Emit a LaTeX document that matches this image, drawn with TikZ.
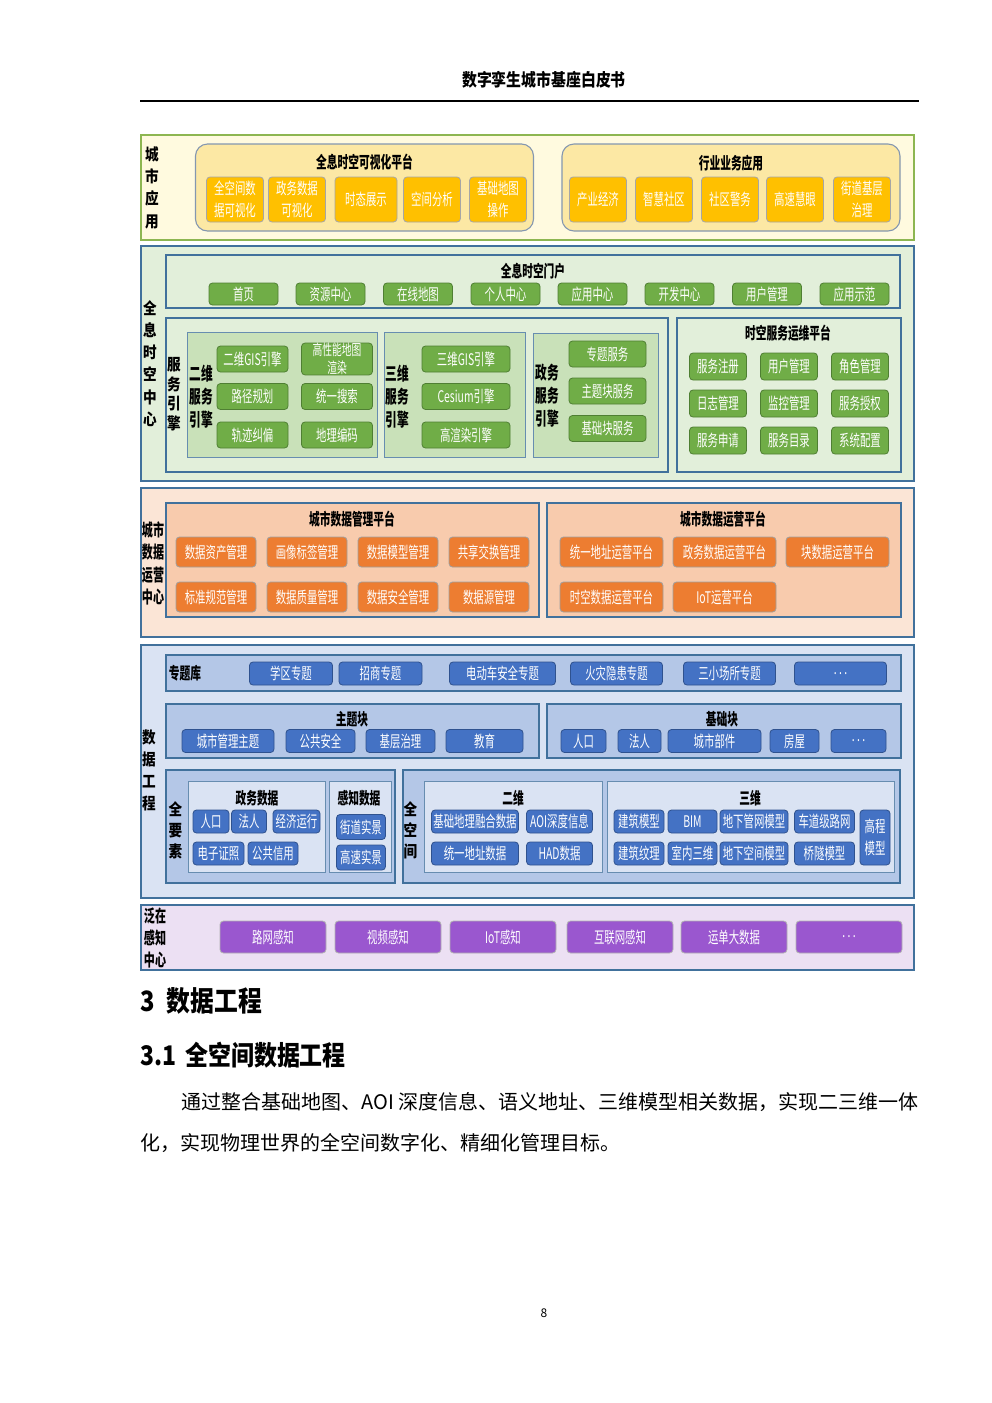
\documentclass[tikz,border=0pt]{standalone}
\usepackage{fontspec}
\setmainfont{Noto Sans CJK SC}
\newfontfamily\slimfont[FakeStretch=0.75]{Noto Sans CJK SC}
\newfontfamily\thinfont[FakeStretch=0.65]{Noto Sans CJK SC}
\newfontfamily\halffont[FakeStretch=0.85]{Noto Sans CJK SC}

\definecolor{frame}{HTML}{41719C}
\definecolor{appfill}{HTML}{FFFADF}
\definecolor{appline}{HTML}{8DB651}
\definecolor{appbox}{HTML}{FCE8A4}
\definecolor{appedge}{HTML}{8497B0}
\definecolor{appitem}{HTML}{FFC000}
\definecolor{hubfill}{HTML}{E2EFDA}
\definecolor{hubsub}{HTML}{C9E1B9}
\definecolor{hubitem}{HTML}{70AD47}
\definecolor{hubedge}{HTML}{4F7F33}
\definecolor{opfill}{HTML}{FBE5D6}
\definecolor{opbox}{HTML}{F8CBAD}
\definecolor{opitem}{HTML}{ED7D31}
\definecolor{engfill}{HTML}{DAE3F3}
\definecolor{engbox}{HTML}{B4C7E7}
\definecolor{engitem}{HTML}{4472C4}
\definecolor{engedge}{HTML}{2F528F}
\definecolor{senfill}{HTML}{ECE0F3}
\definecolor{senitem}{HTML}{9A57CF}

\tikzset{
  layer/.style={draw=frame, line width=1.3, inner sep=0, minimum width=773},
  pane/.style={draw=frame, line width=1.1, inner sep=0},
  subpane/.style={draw=frame!80, line width=0.9, inner sep=0},
  tag/.style={inner sep=0, align=center, font=\thinfont\bfseries\fontsize{16.5}{18}\selectfont},
  side/.style={inner sep=0, align=center, font=\halffont\bfseries\fontsize{16}{22.3}\selectfont},
  duo/.style={inner sep=0, align=center, font=\thinfont\bfseries\fontsize{18}{23}\selectfont},
  cell/.style={rounded corners=3.5, line width=0.8, inner sep=0, align=center, text=white,
    font=\thinfont\fontsize{16}{22}\selectfont},
  ycell/.style={cell, fill=appitem, draw=gray!70, minimum width=57, minimum height=45},
  gcell/.style={cell, fill=hubitem, draw=hubedge, minimum height=26},
  ocell/.style={cell, fill=opitem, draw=gray!75, minimum height=30},
  bcell/.style={cell, fill=engitem, draw=engedge, minimum height=23},
  pcell/.style={cell, fill=senitem, draw=gray!60, minimum width=106, minimum height=32},
}

\begin{document}
\begin{tikzpicture}[x=1pt, y=-1pt]
\useasboundingbox (0,0) rectangle (992,1403);
\fill[white] (0,0) rectangle (992,1403);

% page head
\node[font=\halffont\bfseries\fontsize{17.5}{20}\selectfont] (head) at (544,80) {数字孪生城市基座白皮书};
\coordinate (ruleL) at (140,101);
\coordinate (ruleR) at (919,101);
\draw[line width=1.3] (ruleL) -- (ruleR);

% city applications
\node[layer, draw=appline, line width=2, fill=appfill, minimum height=105] (app) at (527.5,187.5) {};
\node[side] (appl) at (152,187.5) {城\\市\\应\\用};
\node[pane, draw=appedge, fill=appbox, rounded corners=12, minimum width=338, minimum height=87] (vis) at (364.5,187.5) {};
\node[tag] (vist) at (364.5,162) {全息时空可视化平台};
\node[ycell] (vis1) at (235,199.5) {全空间数\\据可视化};
\node[ycell] (vis2) at (297,199.5) {政务数据\\可视化};
\node[ycell, minimum width=62] (vis3) at (366,199.5) {时态展示};
\node[ycell] (vis4) at (432,199.5) {空间分析};
\node[ycell] (vis5) at (498,199.5) {基础地图\\操作};
\node[pane, draw=appedge, fill=appbox, rounded corners=12, minimum width=338, minimum height=87] (ind) at (731,187.5) {};
\node[tag] (indt) at (731,163) {行业业务应用};
\node[ycell] (ind1) at (598,199.5) {产业经济};
\node[ycell] (ind2) at (664,199.5) {智慧社区};
\node[ycell] (ind3) at (730,199.5) {社区警务};
\node[ycell] (ind4) at (795,199.5) {高速慧眼};
\node[ycell] (ind5) at (862,199.5) {街道基层\\治理};

% spatio-temporal hub
\node[layer, fill=hubfill, minimum height=235] (hub) at (527.5,363.5) {};
\node[side] (hubl) at (150,363.5) {全\\息\\时\\空\\中\\心};
\node[pane, fill=hubfill, minimum width=734, minimum height=53] (gate) at (533,281.5) {};
\node[tag] (gatet) at (533,271) {全息时空门户};
\node[gcell, minimum width=69, minimum height=22] (gate1) at (243.5,294) {首页};
\node[gcell, minimum width=69, minimum height=22] (gate2) at (330.5,294) {资源中心};
\node[gcell, minimum width=69, minimum height=22] (gate3) at (418,294) {在线地图};
\node[gcell, minimum width=69, minimum height=22] (gate4) at (505.5,294) {个人中心};
\node[gcell, minimum width=69, minimum height=22] (gate5) at (592.5,294) {应用中心};
\node[gcell, minimum width=69, minimum height=22] (gate6) at (679.5,294) {开发中心};
\node[gcell, minimum width=69, minimum height=22] (gate7) at (767,294) {用户管理};
\node[gcell, minimum width=69, minimum height=22] (gate8) at (854.5,294) {应用示范};

\node[pane, fill=hubfill, minimum width=502, minimum height=154] (eng) at (417,395) {};
\node[side, font=\halffont\bfseries\fontsize{16}{19.5}\selectfont] (engl) at (174,394) {服\\务\\引\\擎};
\node[subpane, fill=hubsub, minimum width=190, minimum height=125] (two) at (282.5,394.5) {};
\node[duo] (twol) at (201,396.5) {二维\\服务\\引擎};
\node[gcell, minimum width=71] (two1) at (252.5,359) {二维GIS引擎};
\node[gcell, minimum width=71, font=\thinfont\fontsize{15}{18}\selectfont] (two2) at (337,359) {高性能地图\\渲染};
\node[gcell, minimum width=71] (two3) at (252.5,396.5) {路径规划};
\node[gcell, minimum width=71] (two4) at (337,396.5) {统一搜索};
\node[gcell, minimum width=71] (two5) at (252.5,435) {轨迹纠偏};
\node[gcell, minimum width=71] (two6) at (337,435) {地理编码};
\node[subpane, fill=hubsub, minimum width=141, minimum height=125] (three) at (454.5,394.5) {};
\node[duo] (threel) at (397.5,396.5) {三维\\服务\\引擎};
\node[gcell, minimum width=88] (three1) at (466,359) {三维GIS引擎};
\node[gcell, minimum width=88] (three2) at (466,396.5) {Cesium引擎};
\node[gcell, minimum width=88] (three3) at (466,435) {高渲染引擎};
\node[subpane, fill=hubsub, minimum width=125, minimum height=124] (gov) at (595.5,395) {};
\node[duo] (govl) at (547,396) {政务\\服务\\引擎};
\node[gcell, minimum width=77] (gov1) at (607.5,354) {专题服务};
\node[gcell, minimum width=77] (gov2) at (607.5,391) {主题块服务};
\node[gcell, minimum width=77] (gov3) at (607.5,428.5) {基础块服务};

\node[pane, fill=hubfill, minimum width=224, minimum height=154] (ops) at (789,395) {};
\node[tag] (opst) at (788,333) {时空服务运维平台};
\node[gcell, minimum width=57, minimum height=27] (ops1) at (718,366.5) {服务注册};
\node[gcell, minimum width=57, minimum height=27] (ops2) at (789,366.5) {用户管理};
\node[gcell, minimum width=57, minimum height=27] (ops3) at (860,366.5) {角色管理};
\node[gcell, minimum width=57, minimum height=27] (ops4) at (718,403.5) {日志管理};
\node[gcell, minimum width=57, minimum height=27] (ops5) at (789,403.5) {监控管理};
\node[gcell, minimum width=57, minimum height=27] (ops6) at (860,403.5) {服务授权};
\node[gcell, minimum width=57, minimum height=27] (ops7) at (718,440.5) {服务申请};
\node[gcell, minimum width=57, minimum height=27] (ops8) at (789,440.5) {服务目录};
\node[gcell, minimum width=57, minimum height=27] (ops9) at (860,440.5) {系统配置};

% city data operation
\node[layer, fill=opfill, minimum height=149] (opc) at (527.5,562.5) {};
\node[duo, font=\thinfont\bfseries\fontsize{17}{22.5}\selectfont] (opcl) at (153,563.5) {城市\\数据\\运营\\中心};
\node[pane, fill=opbox, minimum width=373, minimum height=114] (dm) at (352.5,560) {};
\node[tag] (dmt) at (352,519) {城市数据管理平台};
\node[ocell, minimum width=80] (dm1) at (216,552) {数据资产管理};
\node[ocell, minimum width=80] (dm2) at (307,552) {画像标签管理};
\node[ocell, minimum width=80] (dm3) at (398,552) {数据模型管理};
\node[ocell, minimum width=80] (dm4) at (489,552) {共享交换管理};
\node[ocell, minimum width=80] (dm5) at (216,597) {标准规范管理};
\node[ocell, minimum width=80] (dm6) at (307,597) {数据质量管理};
\node[ocell, minimum width=80] (dm7) at (398,597) {数据安全管理};
\node[ocell, minimum width=80] (dm8) at (489,597) {数据源管理};
\node[pane, fill=opbox, minimum width=354, minimum height=114] (dop) at (724,560) {};
\node[tag] (dopt) at (723,519) {城市数据运营平台};
\node[ocell, minimum width=103] (dop1) at (611.5,552) {统一地址运营平台};
\node[ocell, minimum width=103] (dop2) at (724.5,552) {政务数据运营平台};
\node[ocell, minimum width=103] (dop3) at (837.5,552) {块数据运营平台};
\node[ocell, minimum width=103] (dop4) at (611.5,597) {时空数据运营平台};
\node[ocell, minimum width=103] (dop5) at (724.5,597) {IoT运营平台};

% data engineering
\node[layer, fill=engfill, minimum height=253] (de) at (527.5,771.5) {};
\node[side, font=\halffont\bfseries\fontsize{16}{22}\selectfont] (del) at (149,770) {数\\据\\工\\程};
\node[pane, fill=engbox, minimum width=735, minimum height=36] (topic) at (533.5,673) {};
\node[tag] (topicl) at (185,673) {专题库};
\node[bcell, minimum width=83] (topic1) at (291,673.5) {学区专题};
\node[bcell, minimum width=83] (topic2) at (380.5,673.5) {招商专题};
\node[bcell, minimum width=106] (topic3) at (502.5,673.5) {电动车安全专题};
\node[bcell, minimum width=92] (topic4) at (616.5,673.5) {火灾隐患专题};
\node[bcell, minimum width=92] (topic5) at (729.5,673.5) {三小场所专题};
\node[bcell, minimum width=92] (topic6) at (840.5,673.5) {.~.~.};
\node[pane, fill=engbox, minimum width=373, minimum height=54] (theme) at (352.5,731) {};
\node[tag] (themet) at (352,719) {主题块};
\node[bcell, minimum width=92] (theme1) at (228,741) {城市管理主题};
\node[bcell, minimum width=69] (theme2) at (320.5,741) {公共安全};
\node[bcell, minimum width=69] (theme3) at (400.5,741) {基层治理};
\node[bcell, minimum width=77] (theme4) at (484.5,741) {教育};
\node[pane, fill=engbox, minimum width=354, minimum height=54] (base) at (724,731) {};
\node[tag] (baset) at (722,719) {基础块};
\node[bcell, minimum width=45] (base1) at (583.5,741) {人口};
\node[bcell, minimum width=43] (base2) at (639.5,741) {法人};
\node[bcell, minimum width=93] (base3) at (714.5,741) {城市部件};
\node[bcell, minimum width=49] (base4) at (794.5,741) {房屋};
\node[bcell, minimum width=55] (base5) at (858.5,741) {.~.~.};

\node[pane, fill=engbox, minimum width=229, minimum height=113] (all) at (280.5,826.5) {};
\node[side, font=\halffont\bfseries\fontsize{16}{21}\selectfont] (alll) at (175.5,830) {全\\要\\素};
\node[subpane, fill=engfill, minimum width=137, minimum height=91] (gd) at (256.5,826.5) {};
\node[tag] (gdt) at (257,798) {政务数据};
\node[bcell, minimum width=36] (gd1) at (211,821.5) {人口};
\node[bcell, minimum width=35] (gd2) at (249,821.5) {法人};
\node[bcell, minimum width=47] (gd3) at (296.5,821.5) {经济运行};
\node[bcell, minimum width=51] (gd4) at (218.5,853.5) {电子证照};
\node[bcell, minimum width=50] (gd5) at (273,853.5) {公共信用};
\node[subpane, fill=engfill, minimum width=62, minimum height=91] (sd) at (360,826.5) {};
\node[tag] (sdt) at (359,798) {感知数据};
\node[bcell, minimum width=49, minimum height=25] (sd1) at (361,827) {街道实景};
\node[bcell, minimum width=49, minimum height=25] (sd2) at (361,857.5) {高速实景};

\node[pane, fill=engbox, minimum width=497, minimum height=113] (space) at (651.5,826.5) {};
\node[side, font=\halffont\bfseries\fontsize{16}{21}\selectfont] (spacel) at (410.5,830) {全\\空\\间};
\node[subpane, fill=engfill, minimum width=178, minimum height=91] (flat) at (513,826.5) {};
\node[tag] (flatt) at (513,798) {二维};
\node[bcell, minimum width=87] (flat1) at (475,821.5) {基础地理融合数据};
\node[bcell, minimum width=66] (flat2) at (559.5,821.5) {AOI深度信息};
\node[bcell, minimum width=87] (flat3) at (475,853.5) {统一地址数据};
\node[bcell, minimum width=66] (flat4) at (559.5,853.5) {HAD数据};
\node[subpane, fill=engfill, minimum width=287, minimum height=91] (solid) at (750.5,826.5) {};
\node[tag] (solidt) at (750,798) {三维};
\node[bcell, minimum width=50] (solid1) at (639,821.5) {建筑模型};
\node[bcell, minimum width=49] (solid2) at (692.5,821.5) {BIM};
\node[bcell, minimum width=68] (solid3) at (754,821.5) {地下管网模型};
\node[bcell, minimum width=60] (solid4) at (824.5,821.5) {车道级路网};
\node[bcell, minimum width=50] (solid5) at (639,853.5) {建筑纹理};
\node[bcell, minimum width=49] (solid6) at (692.5,853.5) {室内三维};
\node[bcell, minimum width=68] (solid7) at (754,853.5) {地下空间模型};
\node[bcell, minimum width=60] (solid8) at (824.5,853.5) {桥隧模型};
\node[bcell, minimum width=30, minimum height=55] (solid9) at (875,837.5) {高程\\模型};

% ubiquitous sensing
\node[layer, fill=senfill, minimum height=65] (sen) at (527.5,937.5) {};
\node[duo, font=\thinfont\bfseries\fontsize{17}{22}\selectfont] (senl) at (155,938) {泛在\\感知\\中心};
\node[pcell] (sen1) at (273,937) {路网感知};
\node[pcell] (sen2) at (388,937) {视频感知};
\node[pcell] (sen3) at (503,937) {IoT感知};
\node[pcell] (sen4) at (620,937) {互联网感知};
\node[pcell] (sen5) at (734,937) {运单大数据};
\node[pcell] (sen6) at (849,937) {.~.~.};

% text below the figure
\node[anchor=west, inner sep=0, font=\halffont\bfseries\fontsize{28}{32}\selectfont] (sec) at (140,1001) {3\hspace{12pt}数据工程};
\node[anchor=west, inner sep=0, font=\halffont\bfseries\fontsize{27}{32}\selectfont] (subsec) at (140,1055) {3.1\hspace{9pt}全空间数据工程};
\node[anchor=west, inner sep=0, font=\fontsize{20}{24}\selectfont] (line1) at (181,1102) {通过整合基础地图、AOI 深度信息、语义地址、三维模型相关数据，实现二三维一体};
\node[anchor=west, inner sep=0, font=\fontsize{20}{24}\selectfont] (line2) at (140,1143) {化，实现物理世界的全空间数字化、精细化管理目标。};
\node[font=\fontsize{12}{14}\selectfont] (pageno) at (544,1313) {8};
\end{tikzpicture}
\end{document}
